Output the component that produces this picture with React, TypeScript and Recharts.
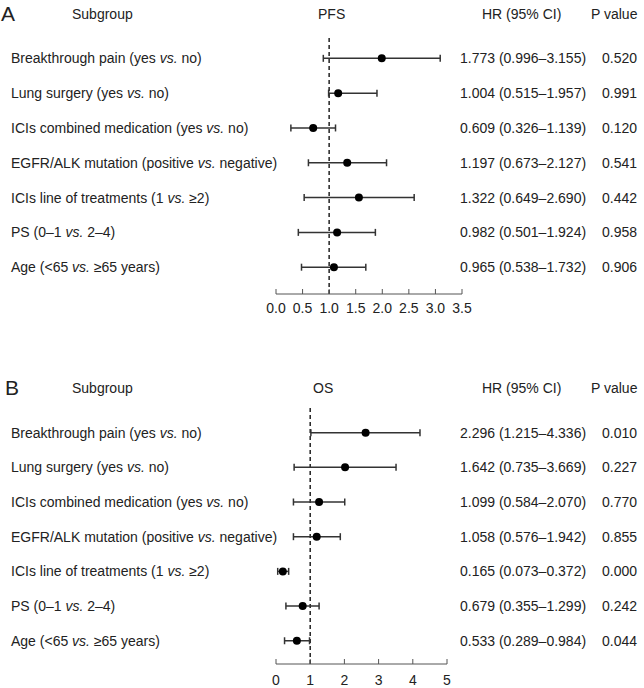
import React from 'react';
import { ScatterChart, Scatter, XAxis, YAxis, ErrorBar, ReferenceLine } from 'recharts';

const FONT = '"Liberation Sans", Arial, Helvetica, sans-serif';

const rows = [1, 2, 3, 4, 5, 6, 7];

const subgroups = [
  'Breakthrough pain (yes vs. no)',
  'Lung surgery (yes vs. no)',
  'ICIs combined medication (yes vs. no)',
  'EGFR/ALK mutation (positive vs. negative)',
  'ICIs line of treatments (1 vs. ≥2)',
  'PS (0–1 vs. 2–4)',
  'Age (<65 vs. ≥65 years)',
];

// PFS - positions as drawn in the figure
const pfsPoint = [1.99, 1.17, 0.7, 1.34, 1.56, 1.15, 1.09];
const pfsLow = [0.89, 0.99, 0.28, 0.61, 0.53, 0.42, 0.48];
const pfsHigh = [3.09, 1.9, 1.12, 2.08, 2.6, 1.87, 1.69];
const pfsHrText = [
  '1.773 (0.996–3.155)',
  '1.004 (0.515–1.957)',
  '0.609 (0.326–1.139)',
  '1.197 (0.673–2.127)',
  '1.322 (0.649–2.690)',
  '0.982 (0.501–1.924)',
  '0.965 (0.538–1.732)',
];
const pfsPText = ['0.520', '0.991', '0.120', '0.541', '0.442', '0.958', '0.906'];
const pfsTicks = [0, 0.5, 1, 1.5, 2, 2.5, 3, 3.5];

// OS
const osPoint = [2.62, 2.02, 1.26, 1.19, 0.2, 0.78, 0.61];
const osLow = [1.02, 0.53, 0.51, 0.51, 0.05, 0.29, 0.25];
const osHigh = [4.21, 3.51, 2.01, 1.88, 0.37, 1.26, 0.98];
const osHrText = [
  '2.296 (1.215–4.336)',
  '1.642 (0.735–3.669)',
  '1.099 (0.584–2.070)',
  '1.058 (0.576–1.942)',
  '0.165 (0.073–0.372)',
  '0.679 (0.355–1.299)',
  '0.533 (0.289–0.984)',
];
const osPText = ['0.010', '0.227', '0.770', '0.855', '0.000', '0.242', '0.044'];
const osTicks = [0, 1, 2, 3, 4, 5];

const LABEL_X = 11;
const HR_X = 460;
const P_X = 602;

const buildData = (pt: number[], lo: number[], hi: number[]) =>
  rows.map((row, i) => ({
    row,
    hr: pt[i],
    err: [pt[i] - lo[i], hi[i] - pt[i]],
  }));

const Label = ({ text }: { text: string }) => {
  const parts = text.split(' vs. ');
  return (
    <>
      <tspan>{parts[0] + ' '}</tspan>
      <tspan fontStyle="italic">vs.</tspan>
      <tspan>{' ' + parts[1]}</tspan>
    </>
  );
};

const makeRowTick = (hrText: string[], pText: string[]) => (props: any) => {
  const { y, payload } = props;
  const i = payload.value - 1;
  if (i < 0 || i >= subgroups.length) return null;
  return (
    <g fontFamily={FONT} fontSize={14} fill="#222">
      <text x={LABEL_X} y={y} dy="0.36em" textAnchor="start">
        <Label text={subgroups[i]} />
      </text>
      <text x={HR_X} y={y} dy="0.36em" textAnchor="start">
        {hrText[i]}
      </text>
      <text x={P_X} y={y} dy="0.36em" textAnchor="start">
        {pText[i]}
      </text>
    </g>
  );
};

const Dot = (props: any) => <circle cx={props.cx} cy={props.cy} r={4} fill="#000" />;

type PanelProps = {
  letter: string;
  letterX: number;
  headY: number;
  title: string;
  titleX: number;
  top: number;
  height: number;
  margin: { top: number; right: number; bottom: number; left: number };
  rowDomain: [number, number];
  xDomain: [number, number];
  ticks: number[];
  fmt: (v: number) => string;
  tickMargin: number;
  data: { row: number; hr: number; err: number[] }[];
  hrText: string[];
  pText: string[];
};

const Panel = (p: PanelProps) => {
  const head = (text: string, left: number) => (
    <div
      style={{
        position: 'absolute',
        left,
        top: p.headY - 7,
        fontSize: 14,
        lineHeight: '14px',
        color: '#222',
        whiteSpace: 'nowrap',
      }}
    >
      {text}
    </div>
  );
  return (
    <>
      <div
        style={{
          position: 'absolute',
          left: p.letterX,
          top: p.headY - 11,
          fontSize: 21,
          lineHeight: '21px',
          color: '#222',
        }}
      >
        {p.letter}
      </div>
      {head('Subgroup', 72)}
      {head(p.title, p.titleX)}
      {head('HR (95% CI)', 482)}
      {head('P value', 591)}
      <div style={{ position: 'absolute', left: 0, top: p.top }}>
        <ScatterChart width={644} height={p.height} margin={p.margin}>
          <XAxis
            type="number"
            dataKey="hr"
            domain={p.xDomain}
            ticks={p.ticks}
            tickFormatter={p.fmt}
            interval={0}
            height={20}
            tickSize={-5}
            tickMargin={p.tickMargin}
            axisLine={{ stroke: '#555' }}
            tickLine={{ stroke: '#555' }}
            tick={{ fill: '#222', fontSize: 14, fontFamily: FONT }}
          />
          <YAxis
            type="number"
            dataKey="row"
            domain={p.rowDomain}
            reversed
            ticks={rows}
            interval={0}
            width={276}
            axisLine={false}
            tickLine={false}
            tick={makeRowTick(p.hrText, p.pText)}
          />
          <ReferenceLine x={1} stroke="#222" strokeWidth={1.5} strokeDasharray="4 3" />
          <Scatter data={p.data} shape={Dot} isAnimationActive={false}>
            <ErrorBar
              dataKey="err"
              direction="x"
              width={3.5}
              stroke="#333"
              strokeWidth={1.5}
              isAnimationActive={false}
            />
          </Scatter>
        </ScatterChart>
      </div>
    </>
  );
};

export default function App() {
  return (
    <div
      style={{
        position: 'absolute',
        left: 0,
        top: 0,
        width: 644,
        height: 688,
        background: '#fff',
        fontFamily: FONT,
        overflow: 'hidden',
      }}
    >
      <Panel
        letter="A"
        letterX={1}
        headY={14}
        title="PFS"
        titleX={318}
        top={0}
        height={340}
        margin={{ top: 35, right: 182, bottom: 26, left: 0 }}
        rowDomain={[0.33, 7.77]}
        xDomain={[0, 3.5]}
        ticks={pfsTicks}
        fmt={(v) => v.toFixed(1)}
        tickMargin={14}
        data={buildData(pfsPoint, pfsLow, pfsHigh)}
        hrText={pfsHrText}
        pText={pfsPText}
      />
      <Panel
        letter="B"
        letterX={5}
        headY={388}
        title="OS"
        titleX={313}
        top={360}
        height={328}
        margin={{ top: 48, right: 197, bottom: 4, left: 0 }}
        rowDomain={[0.29, 7.67]}
        xDomain={[0, 5]}
        ticks={osTicks}
        fmt={(v) => String(v)}
        tickMargin={16}
        data={buildData(osPoint, osLow, osHigh)}
        hrText={osHrText}
        pText={osPText}
      />
    </div>
  );
}
